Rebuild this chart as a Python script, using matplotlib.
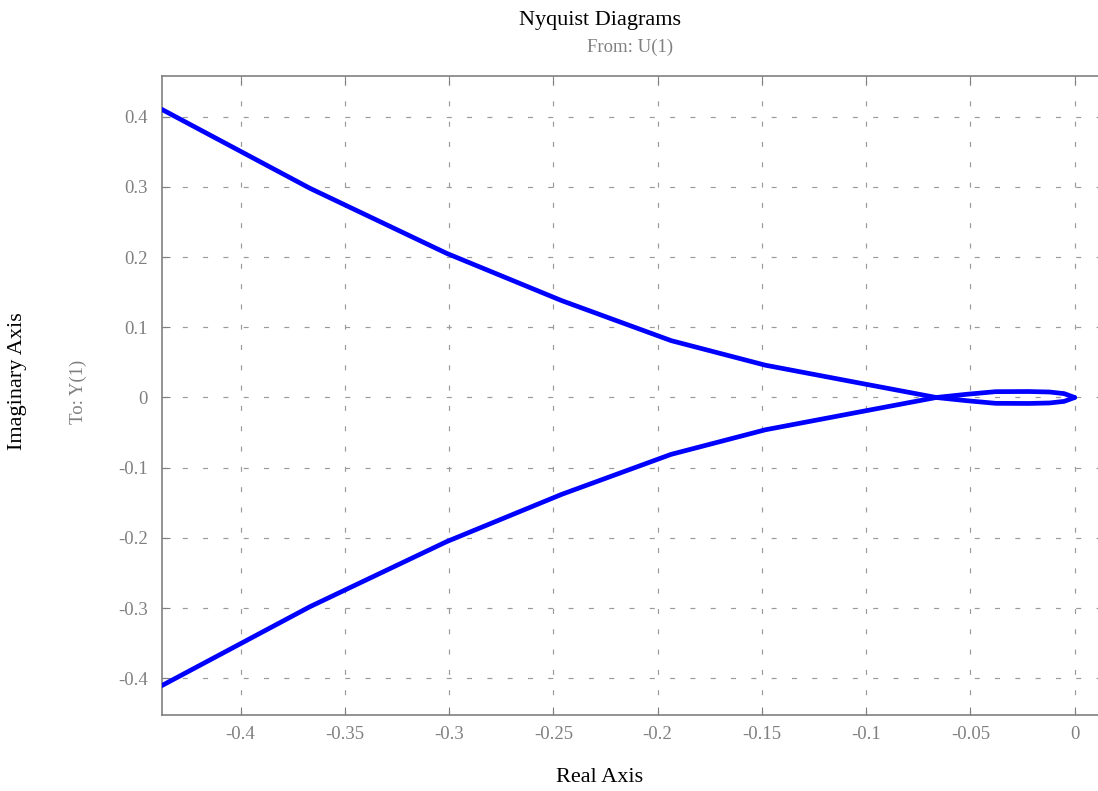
import matplotlib
matplotlib.use("Agg")
import matplotlib.pyplot as plt
import numpy as np

# Nyquist branch (one half); the other half is its mirror image (conjugate)
re_branch = [-0.4378, -0.3667, -0.3012, -0.2460, -0.1935, -0.1483, -0.1007,
             -0.0664, -0.0520, -0.0379, -0.0220, -0.0120, -0.0050, 0.0]
im_branch = [0.4105, 0.2980, 0.2054, 0.1380, 0.0810, 0.0460, 0.0192,
             0.0, -0.0045, -0.0083, -0.0085, -0.0078, -0.0055, 0.0]

x_ticks = [-0.4, -0.35, -0.3, -0.25, -0.2, -0.15, -0.1, -0.05, 0]
x_ticklabels = ["-0.4", "-0.35", "-0.3", "-0.25", "-0.2", "-0.15", "-0.1", "-0.05", "0"]
y_ticks = [-0.4, -0.3, -0.2, -0.1, 0, 0.1, 0.2, 0.3, 0.4]
y_ticklabels = ["-0.4", "-0.3", "-0.2", "-0.1", "0", "0.1", "0.2", "0.3", "0.4"]

plt.rcParams['font.family'] = ['Liberation Serif', 'DejaVu Serif']

W, H = 1098, 791
fig = plt.figure(figsize=(W / 100, H / 100), dpi=100)
ax = fig.add_axes([161.7 / W, (H - 715) / H, 1 - 161.7 / W, (715 - 75.7) / H])

re = np.array(re_branch)
im = np.array(im_branch)
ax.plot(re, im, color='#0000ff', lw=3.4, solid_joinstyle='round', solid_capstyle='round', zorder=3)
ax.plot(re, -im, color='#0000ff', lw=3.4, solid_joinstyle='round', solid_capstyle='round', zorder=3)

ax.set_xlim(-0.4378, 0.0112)
ax.set_ylim(-0.4523, 0.4584)

gray = '#808080'
ax.set_xticks(x_ticks)
ax.set_xticklabels(x_ticklabels)
ax.set_yticks(y_ticks)
ax.set_yticklabels(y_ticklabels)
ax.tick_params(axis='both', direction='in', length=6, width=0.8, color=gray,
               labelcolor=gray, labelsize=13.5, top=True, right=False)
ax.tick_params(axis='x', pad=8)
ax.tick_params(axis='y', pad=10)

ax.grid(True, color='#9a9a9a', linestyle=(0, (4.2, 13.0)), linewidth=0.85)
ax.set_axisbelow(True)

for side in ['left', 'bottom', 'top']:
    ax.spines[side].set_color(gray)
    ax.spines[side].set_linewidth(1.2)
ax.spines['right'].set_visible(False)

fig.text(600 / W, 1 - 20 / H, "Nyquist Diagrams", ha='center', va='center',
         fontsize=16, color='black')
fig.text(630 / W, 1 - 47 / H, "From: U(1)", ha='center', va='center',
         fontsize=13.5, color=gray)
fig.text(600 / W, 1 - 778 / H, "Real Axis", ha='center', va='center',
         fontsize=16, color='black')
fig.text(18 / W, 1 - 381 / H, "Imaginary Axis", ha='center', va='center',
         rotation=90, fontsize=16, color='black')
fig.text(78 / W, 1 - 392 / H, "To: Y(1)", ha='center', va='center',
         rotation=90, fontsize=13.5, color=gray)

fig.savefig("out.png", dpi=100)
